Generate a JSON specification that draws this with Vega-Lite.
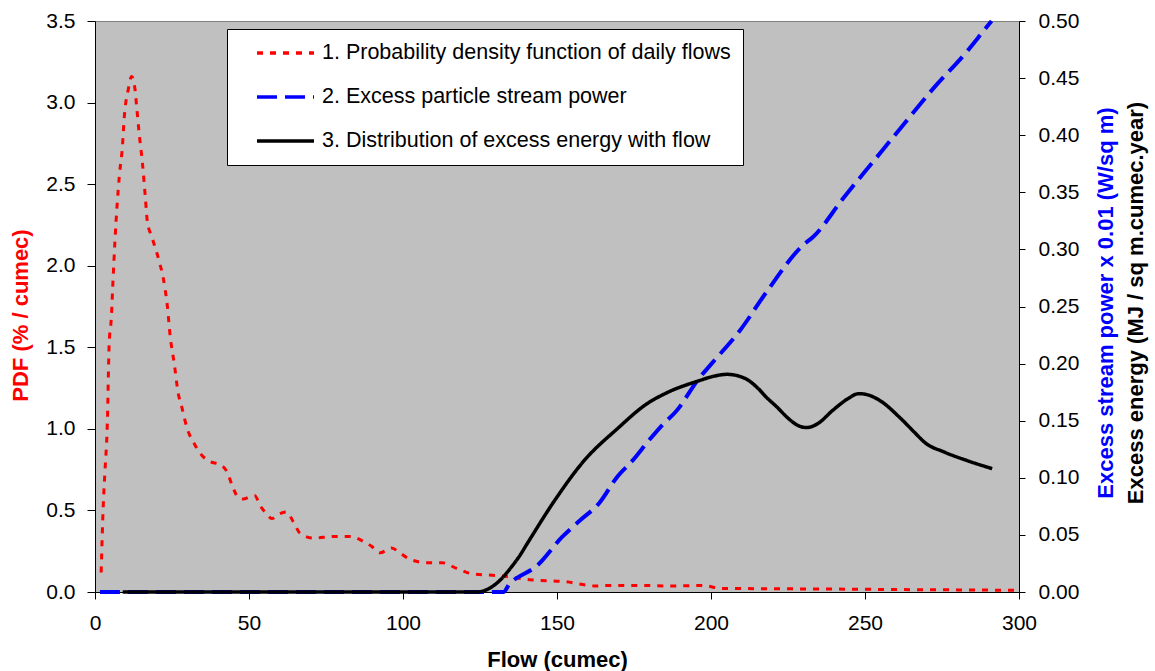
{
  "$schema": "https://vega.github.io/schema/vega-lite/v6.json",
  "autosize": "none",
  "width": 924,
  "height": 571,
  "padding": {"left": 95, "top": 21, "right": 136, "bottom": 79},
  "background": "white",
  "config": {
    "font": "Liberation Sans",
    "view": {"fill": "#c0c0c0", "stroke": "#808080", "strokeWidth": 1},
    "axis": {
      "grid": false,
      "domainColor": "black",
      "tickColor": "black",
      "labelColor": "black",
      "labelFont": "Liberation Sans",
      "labelFontSize": 21,
      "titleFont": "Liberation Sans",
      "titleFontSize": 22,
      "titleFontWeight": "bold",
      "domainWidth": 1,
      "tickWidth": 1
    }
  },
  "datasets": {
    "pdf": [
      {"flow": 2.0, "pdf": 0.12}, {"flow": 2.7, "pdf": 0.54}, {"flow": 3.2, "pdf": 0.73}, {"flow": 4.0, "pdf": 1.03},
      {"flow": 4.6, "pdf": 1.52}, {"flow": 5.3, "pdf": 1.68}, {"flow": 5.8, "pdf": 1.89}, {"flow": 6.5, "pdf": 2.16},
      {"flow": 7.9, "pdf": 2.55}, {"flow": 8.9, "pdf": 2.73}, {"flow": 9.5, "pdf": 2.91}, {"flow": 10.8, "pdf": 3.08},
      {"flow": 11.9, "pdf": 3.16}, {"flow": 13.0, "pdf": 3.08}, {"flow": 13.5, "pdf": 2.98}, {"flow": 14.4, "pdf": 2.8},
      {"flow": 15.4, "pdf": 2.63}, {"flow": 16.3, "pdf": 2.43}, {"flow": 17.0, "pdf": 2.27}, {"flow": 18.4, "pdf": 2.18},
      {"flow": 20.8, "pdf": 2.03}, {"flow": 22.2, "pdf": 1.92}, {"flow": 23.5, "pdf": 1.75}, {"flow": 24.4, "pdf": 1.57},
      {"flow": 25.8, "pdf": 1.39}, {"flow": 27.0, "pdf": 1.22}, {"flow": 28.1, "pdf": 1.14}, {"flow": 29.8, "pdf": 1.01},
      {"flow": 32.5, "pdf": 0.9}, {"flow": 34.6, "pdf": 0.84}, {"flow": 37.3, "pdf": 0.8}, {"flow": 40.6, "pdf": 0.78},
      {"flow": 42.8, "pdf": 0.74}, {"flow": 44.4, "pdf": 0.66}, {"flow": 46.5, "pdf": 0.58}, {"flow": 48.2, "pdf": 0.57},
      {"flow": 49.8, "pdf": 0.58}, {"flow": 51.9, "pdf": 0.59}, {"flow": 53.6, "pdf": 0.53}, {"flow": 55.7, "pdf": 0.48},
      {"flow": 57.4, "pdf": 0.45}, {"flow": 60.0, "pdf": 0.48}, {"flow": 62.2, "pdf": 0.49}, {"flow": 64.4, "pdf": 0.43},
      {"flow": 66.6, "pdf": 0.36}, {"flow": 70.9, "pdf": 0.33}, {"flow": 77.4, "pdf": 0.34}, {"flow": 82.8, "pdf": 0.34},
      {"flow": 87.1, "pdf": 0.31}, {"flow": 89.8, "pdf": 0.28}, {"flow": 92.5, "pdf": 0.24}, {"flow": 96.3, "pdf": 0.27},
      {"flow": 99.0, "pdf": 0.24}, {"flow": 102.3, "pdf": 0.2}, {"flow": 107.7, "pdf": 0.18}, {"flow": 112.6, "pdf": 0.18},
      {"flow": 117.4, "pdf": 0.145}, {"flow": 122.8, "pdf": 0.11}, {"flow": 131.1, "pdf": 0.1}, {"flow": 141.9, "pdf": 0.074},
      {"flow": 152.8, "pdf": 0.063}, {"flow": 162.4, "pdf": 0.037}, {"flow": 167.2, "pdf": 0.04}, {"flow": 176.9, "pdf": 0.04},
      {"flow": 186.5, "pdf": 0.037}, {"flow": 197.3, "pdf": 0.04}, {"flow": 203.4, "pdf": 0.022}, {"flow": 220.0, "pdf": 0.02},
      {"flow": 240.0, "pdf": 0.018}, {"flow": 260.0, "pdf": 0.015}, {"flow": 280.0, "pdf": 0.013}, {"flow": 300.0, "pdf": 0.01}
    ],
    "power": [
      {"flow": 1.6, "value": 0}, {"flow": 60.0, "value": 0}, {"flow": 120.0, "value": 0}, {"flow": 132.6, "value": 0},
      {"flow": 134.7, "value": 0.0076}, {"flow": 136.0, "value": 0.0105}, {"flow": 143.5, "value": 0.023},
      {"flow": 151.6, "value": 0.048}, {"flow": 157.6, "value": 0.063}, {"flow": 163.6, "value": 0.0775},
      {"flow": 169.6, "value": 0.101}, {"flow": 174.5, "value": 0.115}, {"flow": 179.9, "value": 0.133},
      {"flow": 184.1, "value": 0.146}, {"flow": 188.9, "value": 0.159}, {"flow": 196.1, "value": 0.187},
      {"flow": 200.2, "value": 0.2}, {"flow": 209.4, "value": 0.229}, {"flow": 218.1, "value": 0.263},
      {"flow": 230.0, "value": 0.304}, {"flow": 233.2, "value": 0.311}, {"flow": 243.0, "value": 0.345},
      {"flow": 252.7, "value": 0.377}, {"flow": 262.4, "value": 0.409}, {"flow": 272.2, "value": 0.441},
      {"flow": 283.0, "value": 0.473}, {"flow": 288.4, "value": 0.491}, {"flow": 291.1, "value": 0.5}
    ],
    "energy": [
      {"flow": 9.0, "value": 0}, {"flow": 60.0, "value": 0}, {"flow": 100.0, "value": 0}, {"flow": 118.0, "value": 0},
      {"flow": 123.9, "value": 0}, {"flow": 130.4, "value": 0.0076}, {"flow": 135.8, "value": 0.024},
      {"flow": 137.7, "value": 0.031}, {"flow": 140.7, "value": 0.044}, {"flow": 149.2, "value": 0.08},
      {"flow": 158.8, "value": 0.115}, {"flow": 169.6, "value": 0.143}, {"flow": 179.3, "value": 0.165},
      {"flow": 185.3, "value": 0.174}, {"flow": 196.1, "value": 0.185}, {"flow": 201.0, "value": 0.189},
      {"flow": 205.2, "value": 0.1906}, {"flow": 210.6, "value": 0.1876}, {"flow": 215.4, "value": 0.178},
      {"flow": 217.8, "value": 0.171}, {"flow": 221.4, "value": 0.162}, {"flow": 225.1, "value": 0.152},
      {"flow": 228.1, "value": 0.146}, {"flow": 231.1, "value": 0.144}, {"flow": 234.7, "value": 0.1475},
      {"flow": 239.5, "value": 0.159}, {"flow": 244.3, "value": 0.169}, {"flow": 248.0, "value": 0.1737},
      {"flow": 250.4, "value": 0.173}, {"flow": 255.2, "value": 0.167}, {"flow": 261.2, "value": 0.153},
      {"flow": 266.0, "value": 0.14}, {"flow": 269.6, "value": 0.1305}, {"flow": 275.6, "value": 0.1227},
      {"flow": 282.8, "value": 0.1154}, {"flow": 291.3, "value": 0.108}
    ]
  },
  "layer": [
    {
      "data": {"name": "pdf"},
      "mark": {"type": "line", "strokeWidth": 3, "interpolate": "monotone", "strokeCap": "butt"},
      "encoding": {
        "x": {
          "field": "flow", "type": "quantitative",
          "scale": {"domain": [0, 300], "nice": false},
          "axis": {
            "values": [0, 50, 100, 150, 200, 250, 300],
            "tickSize": 7, "labelPadding": 13, "labelFlush": false, "labelOverlap": false,
            "title": "Flow (cumec)", "titleX": 462, "titleY": 67, "titleAlign": "center", "titleBaseline": "middle"
          }
        },
        "y": {
          "field": "pdf", "type": "quantitative",
          "scale": {"domain": [0, 3.5], "nice": false},
          "axis": {
            "values": [0, 0.5, 1, 1.5, 2, 2.5, 3, 3.5], "format": ".1f",
            "tickSize": 8, "labelPadding": 12, "labelOverlap": false,
            "title": "PDF (% / cumec)", "titleColor": "#ff0000", "titleAngle": 270,
            "titleX": -75, "titleY": 294, "titleAlign": "center", "titleBaseline": "middle"
          }
        },
        "color": {
          "datum": "1. Probability density function of daily flows", "type": "nominal",
          "scale": {
            "domain": ["1. Probability density function of daily flows", "2. Excess particle stream power", "3. Distribution of excess energy with flow"],
            "range": ["#ff0000", "#0000ff", "#000000"]
          },
          "legend": {
            "title": null, "orient": "none", "legendX": 132, "legendY": 8,
            "fillColor": "white", "strokeColor": "black", "padding": 12,
            "symbolType": "stroke", "symbolSize": 3249, "symbolStrokeWidth": 3.5, "symbolOffset": 16,
            "labelOffset": 6, "labelFontSize": 21.5, "labelColor": "black", "labelLimit": 700,
            "clipHeight": 24, "rowPadding": 20
          }
        },
        "strokeDash": {
          "datum": "1. Probability density function of daily flows", "type": "nominal",
          "scale": {
            "domain": ["1. Probability density function of daily flows", "2. Excess particle stream power", "3. Distribution of excess energy with flow"],
            "range": [[6, 7], [20, 8], [1, 0]]
          },
          "legend": {"title": null}
        }
      }
    },
    {
      "data": {"name": "power"},
      "mark": {"type": "line", "strokeWidth": 4, "interpolate": "monotone", "strokeCap": "butt"},
      "encoding": {
        "x": {"field": "flow", "type": "quantitative"},
        "y": {
          "field": "value", "type": "quantitative",
          "scale": {"domain": [0, 0.5], "nice": false},
          "axis": {
            "orient": "right",
            "values": [0, 0.05, 0.1, 0.15, 0.2, 0.25, 0.3, 0.35, 0.4, 0.45, 0.5], "format": ".2f",
            "tickSize": 6, "labelPadding": 13, "labelOverlap": false,
            "title": "Excess stream power x 0.01 (W/sq m)", "titleColor": "#0000ff", "titleAngle": 270,
            "titleX": 86, "titleY": 281.5, "titleAlign": "center", "titleBaseline": "middle"
          }
        },
        "color": {"datum": "2. Excess particle stream power", "type": "nominal"},
        "strokeDash": {"datum": "2. Excess particle stream power", "type": "nominal"}
      }
    },
    {
      "data": {"name": "energy"},
      "mark": {"type": "line", "strokeWidth": 3.5, "interpolate": "monotone"},
      "encoding": {
        "x": {"field": "flow", "type": "quantitative"},
        "y": {
          "field": "value", "type": "quantitative",
          "scale": {"domain": [0, 0.5], "nice": false},
          "axis": {
            "orient": "right", "labels": false, "ticks": false, "domain": false,
            "title": "Excess energy (MJ / sq m.cumec.year)", "titleColor": "#000000", "titleAngle": 270,
            "titleX": 116, "titleY": 281.5, "titleAlign": "center", "titleBaseline": "middle"
          }
        },
        "color": {"datum": "3. Distribution of excess energy with flow", "type": "nominal"},
        "strokeDash": {"datum": "3. Distribution of excess energy with flow", "type": "nominal"}
      }
    }
  ],
  "resolve": {"scale": {"y": "independent"}}
}
